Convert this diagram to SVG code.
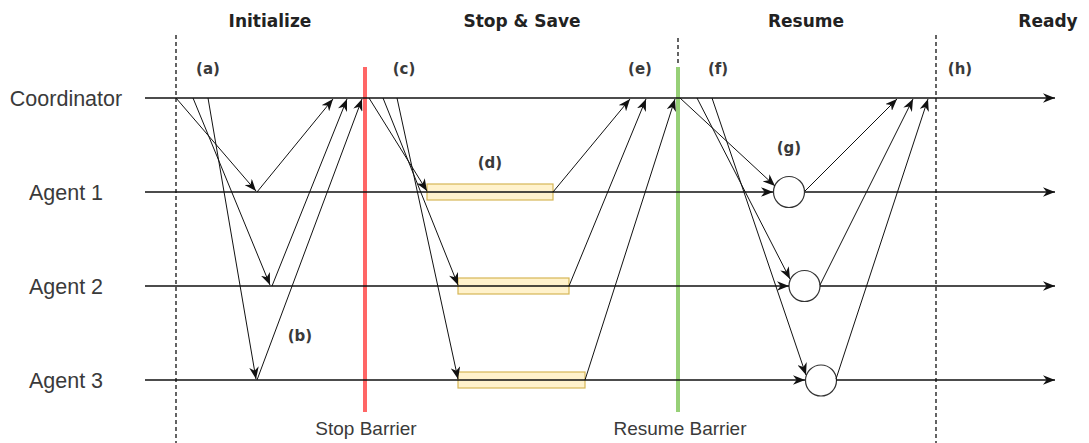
<svg xmlns="http://www.w3.org/2000/svg" width="1089" height="443" viewBox="0 0 1089 443">
<style>
.lane{font-family:"Liberation Sans",Arial,sans-serif;font-size:21.5px;fill:#3a3a3a;text-anchor:middle}
.title{font-family:"DejaVu Sans",Verdana,sans-serif;font-weight:bold;font-size:17px;fill:#222;text-anchor:middle}
.tag{font-family:"DejaVu Sans",Verdana,sans-serif;font-weight:bold;font-size:15px;fill:#3a3a3a;text-anchor:middle}
.bar-label{font-family:"Liberation Sans",Arial,sans-serif;font-size:19px;fill:#3a3a3a;text-anchor:middle}
.life{stroke:#111;stroke-width:1.5;fill:none}
.msg{stroke:#111;stroke-width:1;fill:none;marker-end:url(#ah)}
.dash{stroke:#111;stroke-width:1.3;stroke-dasharray:4 3;fill:none}
.box{fill:#fff2cc;stroke:#d6b656;stroke-width:1.2}
.circ{fill:#fff;stroke:#333;stroke-width:1.2}
</style>
<defs>
<marker id="ah" viewBox="0 0 10 8" refX="10" refY="4" markerWidth="12" markerHeight="9.6" markerUnits="userSpaceOnUse" orient="auto">
<path d="M0,0 L10,4 L0,8 L3,4 Z" fill="#111"/>
</marker>
<marker id="ahl" viewBox="0 0 10 8" refX="10" refY="4" markerWidth="12" markerHeight="10" markerUnits="userSpaceOnUse" orient="auto">
<path d="M0,0 L10,4 L0,8 L3,4 Z" fill="#111"/>
</marker>
</defs>
<rect width="1089" height="443" fill="#fff"/>
<g id="phases">
<text class="title" x="270" y="27">Initialize</text>
<text class="title" x="522" y="27">Stop &amp; Save</text>
<text class="title" x="806" y="27">Resume</text>
<text class="title" x="1048" y="27">Ready</text>
<line class="dash" x1="176" y1="35" x2="176" y2="443"/>
<line class="dash" x1="678" y1="38" x2="678" y2="66"/>
<line class="dash" x1="936" y1="35" x2="936" y2="443"/>
</g>
<g id="tags">
<text class="tag" x="208" y="74">(a)</text>
<text class="tag" x="300" y="341">(b)</text>
<text class="tag" x="404" y="74">(c)</text>
<text class="tag" x="490" y="168">(d)</text>
<text class="tag" x="640" y="74">(e)</text>
<text class="tag" x="718" y="74">(f)</text>
<text class="tag" x="789" y="153">(g)</text>
<text class="tag" x="960" y="74">(h)</text>
</g>
<g id="coordinator">
<text class="lane" x="66" y="106">Coordinator</text>
</g>
<g id="agent1">
<text class="lane" x="66" y="200">Agent 1</text>
</g>
<g id="agent2">
<text class="lane" x="66" y="294">Agent 2</text>
</g>
<g id="agent3">
<text class="lane" x="66" y="388">Agent 3</text>
</g>
<g id="save1"><rect class="box" x="427" y="184" width="126" height="16"/></g>
<g id="save2"><rect class="box" x="458" y="278" width="111" height="16"/></g>
<g id="save3"><rect class="box" x="458" y="372" width="127" height="16"/></g>
<g id="stop-barrier">
<rect x="363" y="67" width="4" height="345" fill="#ff6666"/>
<text class="bar-label" x="366" y="435">Stop Barrier</text>
</g>
<g id="resume-barrier">
<rect x="676" y="67" width="4" height="345" fill="#97d077"/>
<text class="bar-label" x="680" y="435">Resume Barrier</text>
</g>
<g id="resume1"><circle class="circ" cx="789" cy="192" r="15.5"/></g>
<g id="resume2"><circle class="circ" cx="804.5" cy="286" r="15.5"/></g>
<g id="resume3"><circle class="circ" cx="821" cy="380.5" r="15.5"/></g>
<g id="connectors">
<line class="life" x1="145" y1="98" x2="1055" y2="98" marker-end="url(#ahl)"/>
<line class="life" x1="145" y1="192" x2="773" y2="192" marker-end="url(#ahl)"/>
<line class="life" x1="805" y1="192" x2="1055" y2="192" marker-end="url(#ahl)"/>
<line class="life" x1="145" y1="286" x2="789" y2="286" marker-end="url(#ahl)"/>
<line class="life" x1="820" y1="286" x2="1055" y2="286" marker-end="url(#ahl)"/>
<line class="life" x1="145" y1="380" x2="805" y2="380" marker-end="url(#ahl)"/>
<line class="life" x1="836" y1="380" x2="1055" y2="380" marker-end="url(#ahl)"/>
<line class="msg" x1="176" y1="98" x2="256" y2="191"/>
<line class="msg" x1="193" y1="98" x2="270" y2="285"/>
<line class="msg" x1="208" y1="98" x2="256" y2="379"/>
<line class="msg" x1="257" y1="192" x2="333" y2="99"/>
<line class="msg" x1="272" y1="286" x2="347" y2="99"/>
<line class="msg" x1="257" y1="380" x2="362" y2="99"/>
<line class="msg" x1="369" y1="98" x2="427" y2="191"/>
<line class="msg" x1="383" y1="98" x2="458" y2="285"/>
<line class="msg" x1="397" y1="98" x2="458" y2="379"/>
<line class="msg" x1="553" y1="192" x2="630" y2="99"/>
<line class="msg" x1="569" y1="286" x2="646" y2="99"/>
<line class="msg" x1="585" y1="380" x2="675" y2="99"/>
<line class="msg" x1="680" y1="98" x2="775" y2="186"/>
<line class="msg" x1="697" y1="98" x2="790" y2="279"/>
<line class="msg" x1="712" y1="98" x2="806" y2="375"/>
<line class="msg" x1="805" y1="191" x2="897" y2="99"/>
<line class="msg" x1="820" y1="285" x2="913" y2="99"/>
<line class="msg" x1="836" y1="379" x2="928" y2="99"/>
</g>
</svg>
